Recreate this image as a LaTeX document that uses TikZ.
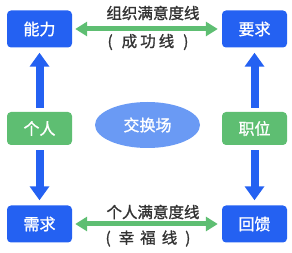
\documentclass[tikz,border=0pt]{standalone}
\usepackage{fontspec}
\setmainfont{Noto Sans CJK SC}
\newfontfamily\medfont{Noto Sans CJK SC}[FakeBold=1.2]
\usetikzlibrary{arrows.meta,shapes.geometric}
\definecolor{bblue}{HTML}{2461F2}
\definecolor{bgreen}{HTML}{5EBE72}
\definecolor{eblue}{HTML}{6A9AF4}
\definecolor{tgrey}{HTML}{333333}
\tikzset{
  box/.style={rounded corners=4pt, minimum width=65pt, minimum height=37pt, inner sep=0pt, text=white, font=\medfont\fontsize{16}{18}\selectfont},
  bbox/.style={box, fill=bblue},
  gbox/.style={box, fill=bgreen, minimum height=33pt},
  vup/.style={draw=bblue, line width=8pt, -{Triangle[width=19pt,length=14pt]}},
  harr/.style={draw=bgreen, line width=5pt, {Triangle[width=14pt,length=12pt]}-{Triangle[width=14pt,length=12pt]}},
  lbl/.style={text=tgrey, font=\medfont\fontsize{15.5}{17}\selectfont, inner sep=0pt}
}
\begin{document}
\begin{tikzpicture}[x=1pt,y=-1pt]
\useasboundingbox (0,0) rectangle (292,253);
\node[bbox] (nl) at (39.5,29) {能力};
\node[bbox] (yq) at (254.5,29) {要求};
\node[gbox] (gr) at (39.5,128.5) {个人};
\node[gbox] (zw) at (254.5,128.5) {职位};
\node[bbox] (xq) at (39.5,224) {需求};
\node[bbox] (hk) at (254.5,224) {回馈};
\node[ellipse, fill=eblue, minimum width=105pt, minimum height=46pt, inner sep=0pt, text=white, font=\medfont\fontsize{16}{18}\selectfont] (jh) at (147.5,125) {交换场};
\draw[vup, shorten <=4pt, shorten >=5pt] (gr.north) -- (nl.south);
\draw[vup, shorten <=5pt, shorten >=5pt] (gr.south) -- (xq.north);
\draw[vup, shorten <=4pt, shorten >=5pt] (zw.north) -- (yq.south);
\draw[vup, shorten <=5pt, shorten >=5pt] (zw.south) -- (hk.north);
\draw[harr, shorten <=3pt, shorten >=4pt] (nl.east) -- (yq.west);
\draw[harr, shorten <=3pt, shorten >=4pt] (xq.east) -- (hk.west);
\node[lbl] (t1) at (153,13) {组织满意度线};
\node[lbl] (t2) at (148,42) {(\hspace{9pt}成\hspace{3pt}功\hspace{3pt}线\hspace{9pt})};
\node[lbl] (t3) at (153,212) {个人满意度线};
\node[lbl] (t4) at (148,238.5) {(\hspace{8pt}幸\hspace{6pt}福\hspace{6pt}线\hspace{8pt})};
\end{tikzpicture}
\end{document}
